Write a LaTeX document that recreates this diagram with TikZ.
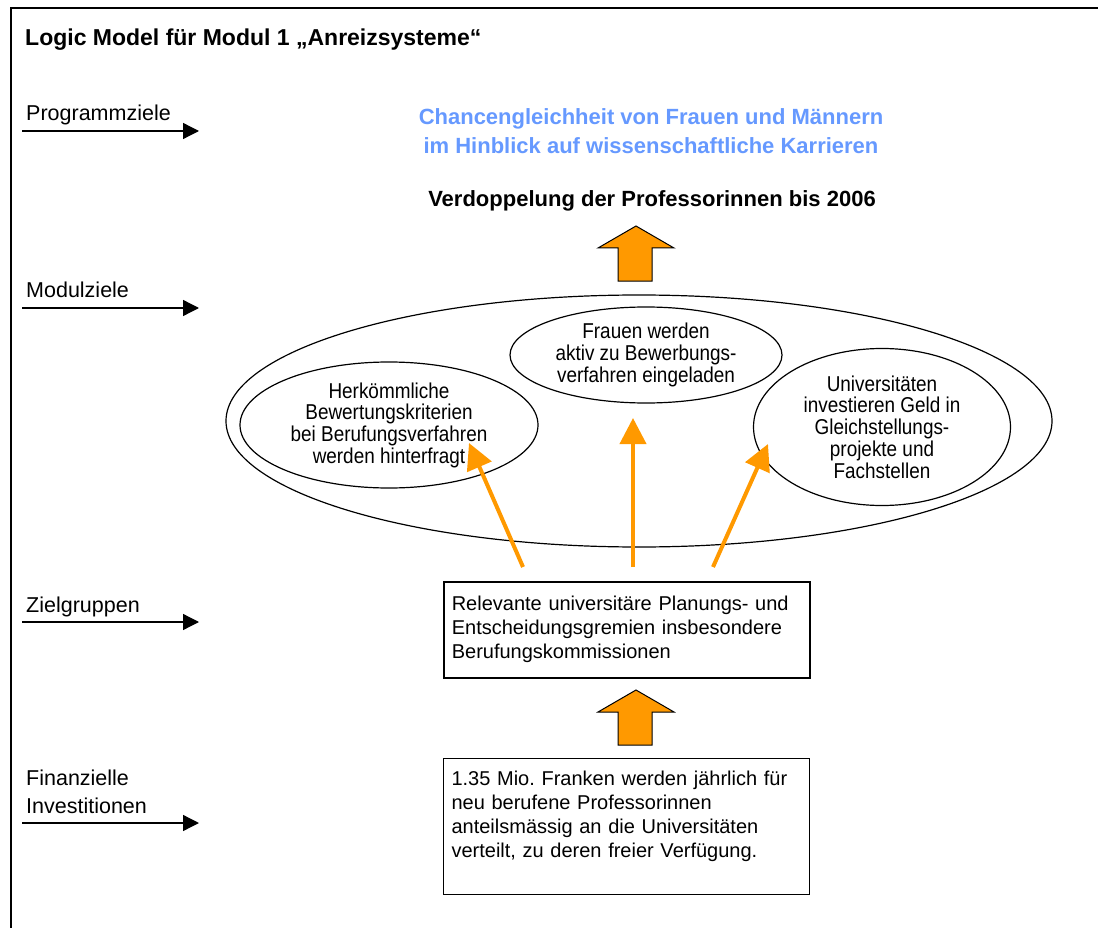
\documentclass[tikz,border=0pt]{standalone}
\usepackage{fontspec}
\setmainfont{Liberation Sans}
\newfontfamily\ellfont[FakeStretch=0.88]{Liberation Sans}
\usetikzlibrary{shapes.geometric,arrows.meta}
\definecolor{zielblau}{RGB}{102,153,255}
\definecolor{pfeilorange}{RGB}{255,153,0}
\frenchspacing
\begin{document}
\begin{tikzpicture}[x=1pt,y=-1pt,
  lbl/.style={anchor=base west,inner sep=0pt,font=\fontsize{21.5}{28}\selectfont},
  lblarrow/.style={line width=1.3pt,-{Triangle[length=16pt,width=16pt]}},
  zielpfeil/.style={draw=pfeilorange,line width=4pt,-{Triangle[length=26pt,width=26pt]}},
  ell/.style={draw,ellipse,line width=1.2pt,inner sep=0pt,align=center,font=\ellfont\fontsize{21.5}{21.7}\selectfont},
  kasten/.style={draw,rectangle,anchor=north west,inner xsep=8pt,inner ysep=0pt,text width=350pt,align=left,minimum width=366pt,font=\fontsize{20}{24}\selectfont},
  blockpfeil/.style={draw=black,fill=pfeilorange,line width=1pt,line join=miter}]
\useasboundingbox (0,0) rectangle (1098,928);
\draw[line width=1.6pt] (11,940) |- (1110,8);
\node[anchor=base west,inner sep=0pt,font=\bfseries\fontsize{23}{28}\selectfont] (titel) at (25,46) {Logic Model für Modul 1 „Anreizsysteme“};
% Ebenen links
\node[lbl] (pz) at (26,121) {Programmziele};
\node[lbl] (mz) at (26,298) {Modulziele};
\node[lbl] (zg) at (26,612) {Zielgruppen};
\node[lbl,anchor=north west,align=left] (fi) at (26,769.5) {Finanzielle\\Investitionen};
\foreach \n/\y in {pz/131,mz/308,zg/622,fi/823}{
  \coordinate (\n-a) at (22,\y);
  \coordinate (\n-b) at (199,\y);
  \draw[lblarrow] (\n-a) -- (\n-b);
}
% Programmziele
\node[align=center,text=zielblau,font=\bfseries\fontsize{22}{29}\selectfont,inner sep=0pt] (programm) at (651,131) {Chancengleichheit von Frauen und Männern\\ im Hinblick auf wissenschaftliche Karrieren};
\node[anchor=base,inner sep=0pt,font=\bfseries\fontsize{22}{26}\selectfont] (verdopplung) at (652,207) {Verdoppelung der Professorinnen bis 2006};
\foreach \t in {226,690}
  \draw[blockpfeil] (636,\t) -- (674,\t+22) -- (652,\t+22) -- (652,\t+55) -- (618,\t+55) -- (618,\t+22) -- (598,\t+22) -- cycle;
% Modulziele
\node[draw,ellipse,line width=1.2pt,minimum width=826pt,minimum height=252pt] (modul) at (639,421) {};
\node[ell,minimum width=298pt,minimum height=126pt] (kriterien) at (389,425) {Herkömmliche\\Bewertungskriterien\\bei Berufungsverfahren\\werden hinterfragt};
\node[ell,minimum width=272pt,minimum height=96pt] (einladung) at (646,355) {Frauen werden\\aktiv zu Bewerbungs-\\verfahren eingeladen};
\node[ell,minimum width=257pt,minimum height=157pt] (geld) at (882,427) {Universitäten\\investieren Geld in\\Gleichstellungs-\\projekte und\\Fachstellen};
% Zielgruppen, Investitionen
\node[kasten,line width=1.6pt,minimum height=96pt] (gremien) at (443,581) {Relevante universitäre Planungs- und\\Entscheidungsgremien insbesondere\\Berufungskommissionen};
\node[kasten,line width=1.1pt,minimum height=136pt] (mittel) at (443,758) {1.35 Mio. Franken werden jährlich für\\neu berufene Professorinnen\\anteilsmässig an die Universitäten\\verteilt, zu deren freier Verfügung.\\ \mbox{}};
\coordinate (g1) at (523,567);
\coordinate (g2) at (633,567);
\coordinate (g3) at (713,567);
\coordinate (k1) at (469,443);
\coordinate (k2) at (633,418);
\coordinate (k3) at (768,444);
\foreach \i in {1,2,3}
  \draw[zielpfeil] (g\i) -- (k\i);
\end{tikzpicture}
\end{document}
